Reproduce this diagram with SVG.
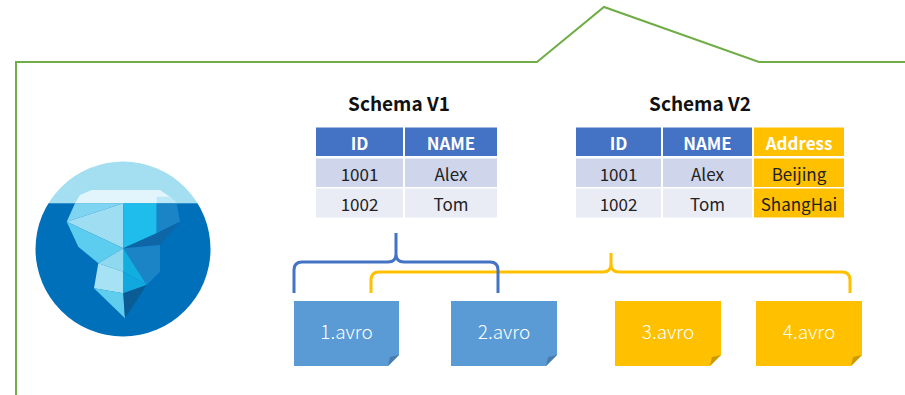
<svg xmlns="http://www.w3.org/2000/svg" width="905" height="395" viewBox="0 0 905 395">
  <style>
    .title { font-family: "Noto Sans CJK SC", "Noto Sans", sans-serif; font-weight: 700; font-size: 19px; fill: #111; text-anchor: middle; }
    .hd { font-family: "Noto Sans CJK SC", "Noto Sans", sans-serif; font-weight: 700; font-size: 17px; fill: #fff; text-anchor: middle; dominant-baseline: central; }
    .cell { font-family: "Noto Sans CJK SC", "Noto Sans", sans-serif; font-size: 17px; fill: #222; text-anchor: middle; dominant-baseline: central; }
    .hblue { fill: #4472C4; }
    .r1 { fill: #CFD5EA; }
    .r2 { fill: #E9EBF5; }
    .gold { fill: #FFC000; }
    .file { font-family: "Noto Sans CJK SC", "Noto Sans", sans-serif; font-weight: 300; font-size: 19px; fill: #fff; text-anchor: middle; dominant-baseline: central; }
    .brace { fill: none; stroke-width: 3; stroke-linejoin: round; stroke-linecap: butt; }
  </style>

  <rect width="905" height="395" fill="#ffffff"/>

  <!-- outline frame -->
  <polyline points="16,395 16,62 537,62 604,7 759,62 905,62" fill="none" stroke="#70AD47" stroke-width="2"/>

  <!-- iceberg emblem -->
  <g id="iceberg">
    <defs>
      <clipPath id="disc"><circle cx="123" cy="249" r="87.5"/></clipPath>
    </defs>
    <g clip-path="url(#disc)">
      <rect x="30" y="155" width="190" height="50" fill="#A3DEF1"/>
      <rect x="30" y="203.3" width="190" height="140" fill="#0070BA"/>
    </g>
    <polygon points="80,195 91.7,190 160,190 170,196.7 176.7,203.3 75,203.3" fill="#E3F5FC"/>
    <polygon points="156.7,196.7 170,196.7 176.7,203.3 156.7,203.3" fill="#BDE8F7"/>
    <polygon points="75,203.3 123.3,203.3 66.7,221.7" fill="#7FD5F1"/>
    <polygon points="66.7,221.7 123.3,203.3 123.3,248.3" fill="#9FDDF2"/>
    <polygon points="66.7,221.7 123.3,248.3 98.3,263.3 78.3,246.7" fill="#5CCDEE"/>
    <polygon points="123.3,203.3 156.7,203.3 156.7,233.3 123.3,248.3" fill="#1EBDEB"/>
    <polygon points="156.7,203.3 176.7,203.3 180,221.7 156.7,233.3" fill="#1A84C7"/>
    <polygon points="156.7,233.3 180,221.7 160,245 123.3,248.3" fill="#0E66A6"/>
    <polygon points="123.3,248.3 160,245 160,271.7 146.7,285" fill="#1A84C7"/>
    <polygon points="123.3,248.3 146.7,285 123.3,271.7" fill="#12AEE0"/>
    <polygon points="98.3,263.3 123.3,248.3 123.3,271.7" fill="#8FD9F0"/>
    <polygon points="98.3,263.3 123.3,271.7 123.3,293.3 94,288.3" fill="#A7E2F4"/>
    <polygon points="123.3,271.7 146.7,285 123.3,293.3" fill="#10A8DE"/>
    <polygon points="94,288.3 123.3,293.3 125,318.3" fill="#5ECDEE"/>
    <polygon points="123.3,293.3 146.7,285 125,318.3" fill="#0A5C94"/>
  </g>

  <!-- schema v1 table -->
  <g id="schema-v1">
    <text class="title" x="399" y="111">Schema V1</text>
    <rect class="hblue" x="316" y="127.5" width="87" height="28.5"/>
    <rect class="hblue" x="405" y="127.5" width="92" height="28.5"/>
    <rect class="r1" x="316" y="158.5" width="87" height="28.5"/>
    <rect class="r1" x="405" y="158.5" width="92" height="28.5"/>
    <rect class="r2" x="316" y="188.5" width="87" height="29"/>
    <rect class="r2" x="405" y="188.5" width="92" height="29"/>
    <text class="hd" x="359.5" y="142">ID</text>
    <text class="hd" x="451" y="142">NAME</text>
    <text class="cell" x="359.5" y="173">1001</text>
    <text class="cell" x="451" y="173">Alex</text>
    <text class="cell" x="359.5" y="203">1002</text>
    <text class="cell" x="451" y="203">Tom</text>
  </g>

  <!-- schema v2 table -->
  <g id="schema-v2">
    <text class="title" x="700" y="111">Schema V2</text>
    <rect class="hblue" x="576" y="127.5" width="85" height="28.5"/>
    <rect class="hblue" x="663" y="127.5" width="89" height="28.5"/>
    <rect class="gold" x="754" y="127.5" width="90" height="28.5"/>
    <rect class="r1" x="576" y="158.5" width="85" height="28.5"/>
    <rect class="r1" x="663" y="158.5" width="89" height="28.5"/>
    <rect class="gold" x="754" y="158.5" width="90" height="28.5"/>
    <rect class="r2" x="576" y="188.5" width="85" height="29"/>
    <rect class="r2" x="663" y="188.5" width="89" height="29"/>
    <rect class="gold" x="754" y="188.5" width="90" height="29"/>
    <text class="hd" x="618.5" y="142">ID</text>
    <text class="hd" x="707.5" y="142">NAME</text>
    <text class="hd" x="799" y="142">Address</text>
    <text class="cell" x="618.5" y="173">1001</text>
    <text class="cell" x="707.5" y="173">Alex</text>
    <text class="cell" x="799" y="173">Beijing</text>
    <text class="cell" x="618.5" y="203">1002</text>
    <text class="cell" x="707.5" y="203">Tom</text>
    <text class="cell" x="799" y="203">ShangHai</text>
  </g>

  <!-- braces grouping files under each schema -->
  <g id="connectors">
    <path class="brace" stroke="#FFC000" d="M371,293 V280 Q371,272 379,272 H603 Q611,272 611,264 V253 M611,264 Q611,272 619,272 H842 Q850,272 850,280 V293"/>
    <path class="brace" stroke="#4472C4" d="M294,293 V270 Q294,262 302,262 H388 Q396,262 396,254 V233 M396,254 Q396,262 404,262 H490 Q498,262 498,270 V293"/>
  </g>

  <!-- data files -->
  <g id="file-1">
    <path d="M294,301 H399 V355 L388,366 H294 Z" fill="#5B9BD5"/>
    <path d="M399,355 L388,366 L390,357 Z" fill="#4A7DAB"/>
    <text class="file" x="346.5" y="330">1.avro</text>
  </g>
  <g id="file-2">
    <path d="M451,301 H557 V355 L546,366 H451 Z" fill="#5B9BD5"/>
    <path d="M557,355 L546,366 L548,357 Z" fill="#4A7DAB"/>
    <text class="file" x="504" y="330">2.avro</text>
  </g>
  <g id="file-3">
    <path d="M615,301 H721 V355 L710,366 H615 Z" fill="#FFC000"/>
    <path d="M721,355 L710,366 L712,357 Z" fill="#CC9A00"/>
    <text class="file" x="668" y="330">3.avro</text>
  </g>
  <g id="file-4">
    <path d="M756,301 H862 V355 L851,366 H756 Z" fill="#FFC000"/>
    <path d="M862,355 L851,366 L853,357 Z" fill="#CC9A00"/>
    <text class="file" x="809" y="330">4.avro</text>
  </g>
</svg>
